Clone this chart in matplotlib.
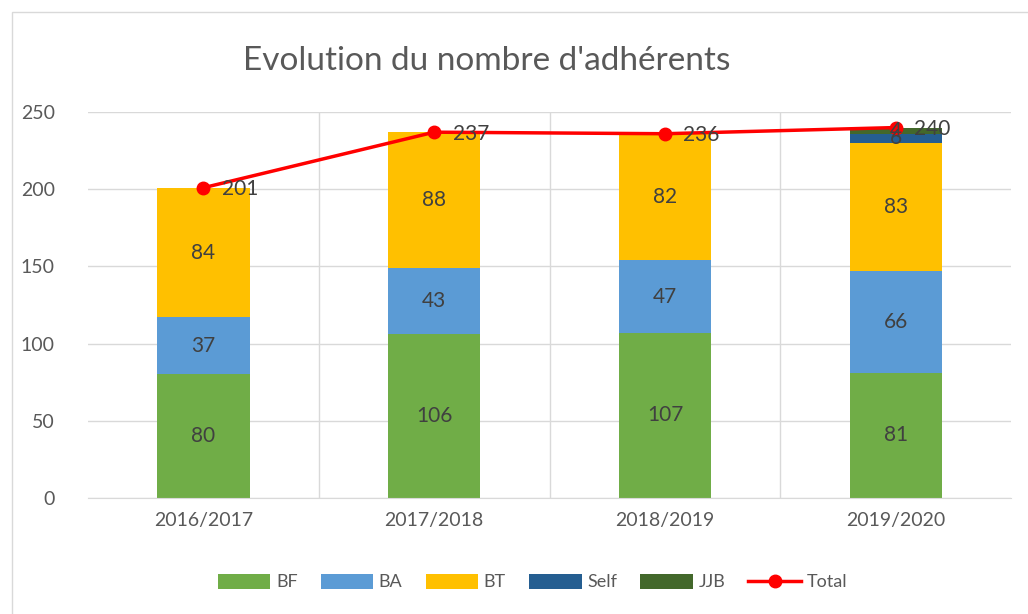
import numpy as np
import matplotlib.pyplot as plt
from matplotlib.patches import Rectangle

seasons = ["2016/2017", "2017/2018", "2018/2019", "2019/2020"]
bf = [80, 106, 107, 81]
ba = [37, 43, 47, 66]
bt = [84, 88, 82, 83]
self_def = [0, 0, 0, 6]
jjb = [0, 0, 0, 4]
total = [201, 237, 236, 240]

series = [("BF", bf, "#70AD47"), ("BA", ba, "#5B9BD5"), ("BT", bt, "#FFC000"),
          ("Self", self_def, "#255E91"), ("JJB", jjb, "#43682B")]

plt.rcParams["font.family"] = ["Lato", "DejaVu Sans"]
fig = plt.figure(figsize=(10.28, 6.14), dpi=100)
fig.patches.append(Rectangle((0.012, -0.01), 0.99, 0.99, transform=fig.transFigure,
                             fill=False, edgecolor="#D9D9D9", lw=1))
ax = fig.add_axes([0.0856, 0.189, 0.898, 0.6284])

x = np.arange(len(seasons))
bottom = np.zeros(len(seasons))
handles = []
for name, vals, col in series:
    vals = np.array(vals)
    h = ax.bar(x, vals, 0.4, bottom=bottom, color=col, zorder=2, label=name)
    handles.append(h)
    for xi, b, v in zip(x, bottom, vals):
        if v > 0:
            ax.text(xi, b + v / 2, str(v), ha="center", va="center",
                    fontsize=15, color="#404040", zorder=6)
    bottom += vals

line, = ax.plot(x, total, color="#FF0000", lw=2.5, marker="o", markersize=9, zorder=4, label="Total")
handles.append(line)
for xi, t in zip(x, total):
    ax.text(xi + 0.08, t - 1, str(t), ha="left", va="center", fontsize=15, color="#404040", zorder=5)

ax.set_xlim(-0.5, 3.5)
ax.set_ylim(0, 250)
ax.set_yticks(range(0, 251, 50))
ax.set_xticks(x)
ax.set_xticklabels(seasons)
ax.grid(axis="y", color="#D9D9D9", lw=1, zorder=0)
for b in [0.5, 1.5, 2.5]:
    ax.axvline(b, color="#D9D9D9", lw=1, zorder=0)
for s in ["top", "right", "left"]:
    ax.spines[s].set_visible(False)
ax.spines["bottom"].set_color("#D9D9D9")
ax.tick_params(length=0, labelsize=14, labelcolor="#595959", pad=10)
ax.tick_params(axis="y", pad=24)

fig.text(0.473, 0.9, "Evolution du nombre d'adhérents", ha="center", va="center",
         fontsize=24, color="#595959")

leg = fig.legend(handles=handles, labels=[h.get_label() for h in handles],
                 loc="center", bbox_to_anchor=(0.518, 0.052), ncol=6, frameon=False,
                 fontsize=13, handlelength=2.9, handleheight=0.9, columnspacing=1.3,
                 handletextpad=0.3)
for t in leg.get_texts():
    t.set_color("#595959")

fig.savefig("out.png", dpi=100)
